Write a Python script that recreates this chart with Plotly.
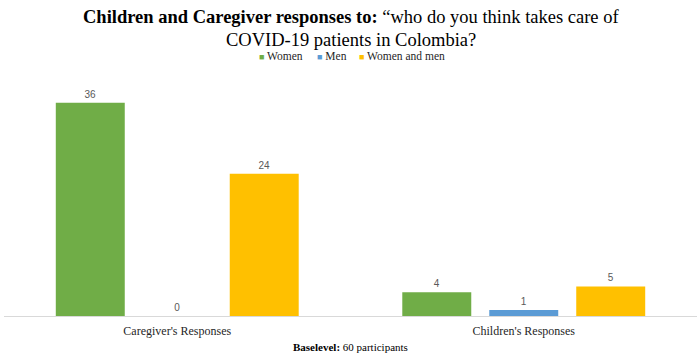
import plotly.graph_objects as go

categories = ["Caregiver's Responses", "Children's Responses"]
series_names = ["Women", "Men", "Women and men"]
women = [36, 4]
men = [0, 1]
women_and_men = [24, 5]
colors = ["#70AD47", "#5B9BD5", "#FFC000"]

SERIF = "Liberation Serif, Times New Roman, serif"

fig = go.Figure()
for name, vals, col in zip(series_names, [women, men, women_and_men], colors):
    fig.add_trace(go.Bar(
        x=categories, y=vals, name=name,
        marker=dict(color=col, line=dict(width=0)),
        text=[str(v) for v in vals], textposition="outside",
        textfont=dict(family="Liberation Sans, Arial, sans-serif", size=10, color="#595959"),
        cliponaxis=False, showlegend=False,
    ))

PH = 237.0
PW = 693.0
def py(pix):
    return (316 - pix) / PH
def px(pix):
    return (pix - 4) / PW

annotations = [
    dict(
        text="<b>Children and Caregiver responses to:</b> \u201cwho do you think takes care of",
        x=0.5, xref="paper", xanchor="center",
        y=py(17), yref="paper", yanchor="middle", showarrow=False,
        font=dict(family=SERIF, size=18.5, color="black"),
    ),
    dict(
        text="COVID-19 patients in Colombia?",
        x=0.5, xref="paper", xanchor="center",
        y=py(40), yref="paper", yanchor="middle", showarrow=False,
        font=dict(family=SERIF, size=18.5, color="black"),
    ),
    dict(
        text="<b>Baselevel:</b> 60 participants",
        x=0.5, xref="paper", xanchor="center",
        y=py(347), yref="paper", yanchor="middle", showarrow=False,
        font=dict(family=SERIF, size=11, color="black"),
    ),
]
# legend (small square keys next to the series names)
legend_x = [257, 315, 357]
for name, col, lx in zip(series_names, colors, legend_x):
    annotations.append(dict(
        text=f"<span style='color:{col};font-size:9px'>\u25A0</span> {name}",
        x=px(lx), xref="paper", xanchor="left",
        y=py(56), yref="paper", yanchor="middle", showarrow=False,
        font=dict(family=SERIF, size=11.5, color="#262626"),
    ))

fig.update_layout(
    width=699, height=356,
    margin=dict(l=4, r=2, t=79, b=40, autoexpand=False),
    paper_bgcolor="white", plot_bgcolor="white",
    barmode="group", bargap=0.247, bargroupgap=0.207,
    showlegend=False,
    xaxis=dict(
        showline=True, linecolor="#D9D9D9", linewidth=1, ticks="",
        tickfont=dict(family=SERIF, size=12, color="#262626"),
        ticklabelstandoff=4,
        showgrid=False,
    ),
    yaxis=dict(range=[0, 40], visible=False, showgrid=False),
    font=dict(family=SERIF),
    annotations=annotations,
)

fig.write_html("out.html", config={"displayModeBar": False},
               post_script="document.body.style.margin='0px';")
